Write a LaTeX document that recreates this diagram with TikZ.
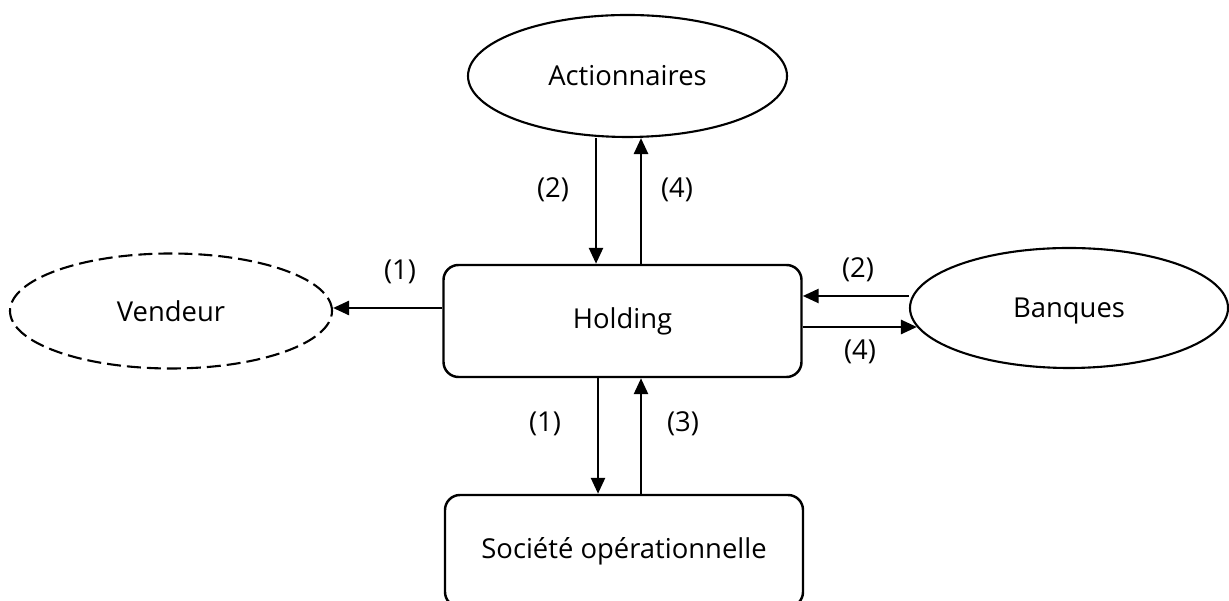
\documentclass[tikz,border=0pt]{standalone}
\usepackage{fontspec}
\setmainfont{Open Sans}
\usetikzlibrary{arrows.meta, positioning, shapes.geometric}

\begin{document}
\begin{tikzpicture}[x=0.1mm, y=-0.1mm, font=\fontsize{7.8}{9.4}\selectfont,
    arr/.style={-{Triangle[length=1.6mm, width=1.4mm]}, line width=0.75pt},
    oval/.style={ellipse, draw, line width=0.6pt, inner sep=0pt},
    boite/.style={rectangle, rounded corners=1.5mm, draw, line width=0.7pt,
        minimum width=35.8mm, minimum height=11.2mm, inner sep=0pt}]
    \useasboundingbox (0,0) rectangle (1229,601);
    
    % Noeuds
    \node[boite] (hold) at (622.5,321) {Holding};
    \node[boite] (soc) at (624,551) {Société opérationnelle};
    \node[oval, minimum width=31.9mm, minimum height=12.2mm] (act) at (627.5,76) {Actionnaires};
    \node[oval, text depth=0pt, minimum width=31.8mm, minimum height=12mm] (ban) at (1069,308) {Banques};
    \node[oval, dash pattern=on 1.4mm off 0.6mm, minimum width=32.2mm, minimum height=11.5mm] (ven) at (171,311) {Vendeur};
    
    % Holding -- Actionnaires
    \draw[arr] ([xshift=-2.65mm]hold.north |- act.south) coordinate (a1) -- (a1 |- hold.north);
    \draw[arr] ([xshift=1.85mm]hold.north) coordinate (a2) -- (a2 |- act.south);
    \node (l2a) at (553,190) {(2)};
    \node (l4a) at (677,190) {(4)};
    
    % Holding -- Vendeur
    \draw[arr] ([yshift=1.3mm]hold.west) coordinate (v1) -- (v1 -| ven.east);
    \node (l1v) at (400,272) {(1)};
    
    % Holding -- Banques
    \draw[arr] ([yshift=1.2mm]ban.west) coordinate (b1) -- (b1 -| hold.east);
    \draw[arr] ([yshift=-0.6mm]hold.east) coordinate (b2) -- ([xshift=0.8mm]b2 -| ban.west);
    \node (l2b) at (858,270) {(2)};
    \node (l4b) at (860,352) {(4)};
    
    % Holding -- Societe operationnelle
    \draw[arr] ([xshift=-2.45mm]hold.south) coordinate (s1) -- (s1 |- soc.north);
    \draw[arr] ([xshift=1.85mm]soc.north -| hold.south) coordinate (s2) -- (s2 |- hold.south);
    \node (l1s) at (545,424) {(1)};
    \node (l3s) at (683,424) {(3)};
\end{tikzpicture}
\end{document}
